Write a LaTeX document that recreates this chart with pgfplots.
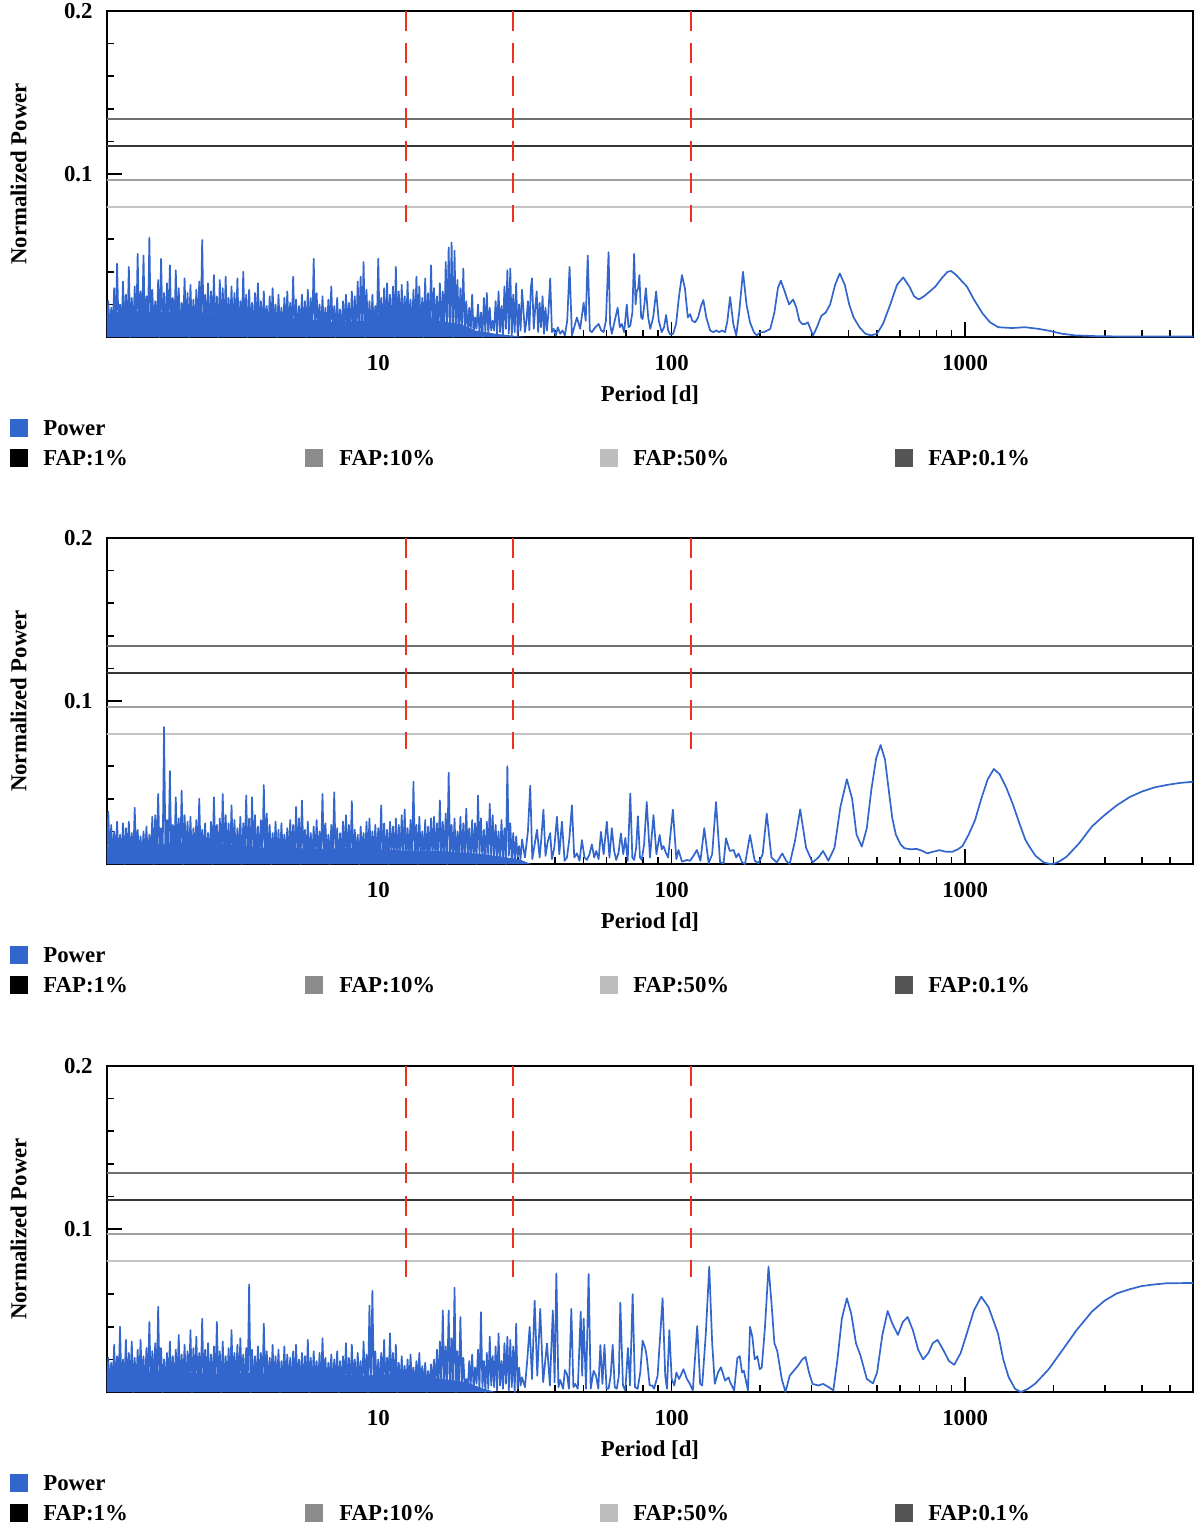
\documentclass[border=0pt]{standalone}
\usepackage{pgfplots}
\usepackage{pgfplotstable}
\pgfplotsset{compat=1.18}
\usepackage{fontspec}
\setmainfont{Liberation Serif}
\newcommand\fs{\fontsize{11.4bp}{13.7bp}\selectfont\bfseries}
\definecolor{pblue}{RGB}{51,102,204}
\definecolor{fapred}{RGB}{238,48,28}
\definecolor{lfapa}{RGB}{0,0,0}
\definecolor{lfapb}{RGB}{140,140,140}
\definecolor{lfapc}{RGB}{190,190,190}
\definecolor{lfapd}{RGB}{85,85,85}
\definecolor{fapA}{RGB}{55,55,55}
\definecolor{fapB}{RGB}{160,160,160}
\definecolor{fapC}{RGB}{196,196,196}
\definecolor{fapD}{RGB}{112,112,112}

% Panel 1: L = log10(period [d]), P = normalized power
\pgfplotstableread[row sep=\\]{
L P\\
0.075 0.004\\0.080 0.022\\0.085 0.002\\0.090 0.018\\
0.095 0.004\\0.100 0.030\\0.105 0.002\\0.110 0.045\\0.115 0.003\\0.120 0.020\\0.125 0.001\\0.130 0.034\\0.135 0.005\\0.140 0.026\\0.145 0.002\\0.150 0.043\\0.155 0.000\\0.160 0.024\\0.165 0.003\\0.170 0.031\\0.175 0.001\\0.180 0.051\\0.185 0.004\\0.190 0.028\\
0.195 0.004\\0.200 0.050\\0.205 0.002\\0.210 0.025\\0.215 0.003\\0.220 0.061\\0.225 0.001\\0.230 0.029\\0.235 0.005\\0.240 0.022\\0.245 0.002\\0.250 0.035\\0.255 0.000\\0.260 0.048\\0.265 0.003\\0.270 0.027\\0.275 0.001\\0.280 0.033\\0.285 0.004\\0.290 0.044\\
0.295 0.004\\0.300 0.024\\0.305 0.002\\0.310 0.041\\0.315 0.003\\0.320 0.030\\0.325 0.001\\0.330 0.021\\0.335 0.005\\0.340 0.036\\0.345 0.002\\0.350 0.027\\0.355 0.000\\0.360 0.032\\0.365 0.003\\0.370 0.023\\0.375 0.001\\0.380 0.029\\0.385 0.004\\0.390 0.034\\
0.395 0.004\\0.400 0.0595\\0.405 0.002\\0.410 0.026\\0.415 0.003\\0.420 0.033\\0.425 0.001\\0.430 0.028\\0.435 0.005\\0.440 0.038\\0.445 0.002\\0.450 0.025\\0.455 0.000\\0.460 0.035\\0.465 0.003\\0.470 0.030\\0.475 0.001\\0.480 0.037\\0.485 0.004\\0.490 0.024\\
0.495 0.004\\0.500 0.031\\0.505 0.002\\0.510 0.027\\0.515 0.003\\0.520 0.036\\0.525 0.001\\0.530 0.022\\0.535 0.005\\0.540 0.040\\0.545 0.002\\0.550 0.026\\0.555 0.000\\0.560 0.029\\0.565 0.003\\0.570 0.021\\0.575 0.001\\0.580 0.027\\0.585 0.004\\0.590 0.033\\
0.595 0.004\\0.600 0.022\\0.605 0.002\\0.610 0.028\\0.615 0.003\\0.620 0.019\\0.625 0.001\\0.630 0.025\\0.635 0.005\\0.640 0.030\\0.645 0.002\\0.650 0.020\\0.655 0.000\\0.660 0.026\\0.665 0.003\\0.670 0.018\\0.675 0.001\\0.680 0.024\\0.685 0.004\\0.690 0.028\\
0.695 0.004\\0.700 0.021\\0.705 0.002\\0.710 0.037\\0.715 0.003\\0.720 0.023\\0.725 0.001\\0.730 0.019\\0.735 0.005\\0.740 0.026\\0.745 0.002\\0.750 0.022\\0.755 0.000\\0.760 0.029\\0.765 0.003\\0.770 0.024\\0.775 0.001\\0.780 0.048\\0.785 0.004\\0.790 0.027\\
0.795 0.004\\0.800 0.020\\0.805 0.002\\0.810 0.025\\0.815 0.003\\0.820 0.018\\0.825 0.001\\0.830 0.023\\0.835 0.005\\0.840 0.031\\0.845 0.002\\0.850 0.019\\0.855 0.000\\0.860 0.024\\0.865 0.003\\0.870 0.017\\0.875 0.001\\0.880 0.022\\0.885 0.004\\0.890 0.026\\
0.895 0.004\\0.900 0.021\\0.905 0.002\\0.910 0.028\\0.915 0.003\\0.920 0.025\\0.925 0.001\\0.930 0.034\\0.935 0.005\\0.940 0.037\\0.945 0.002\\0.950 0.046\\0.955 0.000\\0.960 0.029\\0.965 0.003\\0.970 0.022\\0.975 0.001\\0.980 0.026\\0.985 0.004\\0.990 0.019\\
0.995 0.004\\1.000 0.048\\1.005 0.002\\1.010 0.024\\1.015 0.003\\1.020 0.030\\1.025 0.001\\1.030 0.033\\1.035 0.005\\1.040 0.026\\1.045 0.002\\1.050 0.031\\1.055 0.000\\1.060 0.043\\1.065 0.003\\1.070 0.028\\1.075 0.001\\1.080 0.032\\1.085 0.004\\1.090 0.025\\
1.095 0.004\\1.100 0.034\\1.105 0.002\\1.110 0.023\\1.115 0.003\\1.120 0.029\\1.125 0.001\\1.130 0.037\\1.135 0.005\\1.140 0.031\\1.145 0.002\\1.150 0.024\\1.155 0.000\\1.160 0.036\\1.165 0.003\\1.170 0.027\\1.175 0.001\\1.180 0.044\\1.185 0.004\\1.190 0.030\\
1.195 0.004\\1.200 0.025\\1.205 0.002\\1.210 0.033\\1.215 0.003\\1.220 0.028\\1.225 0.001\\1.230 0.046\\1.235 0.005\\1.240 0.055\\1.245 0.002\\1.250 0.058\\1.255 0.000\\1.260 0.053\\1.265 0.003\\1.270 0.035\\1.275 0.001\\1.280 0.030\\1.285 0.004\\1.290 0.042\\
1.295 0.004\\1.300 0.022\\1.305 0.002\\1.310 0.018\\1.315 0.003\\1.320 0.026\\1.325 0.001\\1.330 0.012\\1.335 0.005\\1.340 0.020\\1.345 0.002\\1.350 0.015\\1.355 0.000\\1.360 0.024\\1.365 0.003\\1.370 0.027\\1.375 0.001\\1.380 0.018\\1.385 0.004\\1.390 0.010\\
1.395 0.004\\1.400 0.022\\1.405 0.002\\1.410 0.028\\1.415 0.003\\1.420 0.019\\1.425 0.001\\1.430 0.031\\1.435 0.005\\1.440 0.041\\1.445 0.002\\1.450 0.042\\1.455 0.000\\1.460 0.026\\1.465 0.003\\1.470 0.033\\1.475 0.001\\1.480 0.020\\1.485 0.004\\1.490 0.029\\
1.500 0.003\\1.505 0.010\\1.510 0.022\\1.515 0.004\\1.520 0.030\\1.524 0.036\\1.530 0.005\\1.535 0.018\\1.540 0.028\\1.545 0.003\\1.550 0.021\\1.555 0.006\\1.560 0.025\\1.565 0.002\\1.570 0.018\\1.575 0.004\\1.580 0.015\\1.586 0.036\\1.592 0.003\\1.598 0.005\\
1.605 0.001\\1.612 0.006\\1.620 0.002\\1.628 0.004\\1.636 0.001\\1.644 0.010\\1.652 0.043\\1.660 0.001\\1.668 0.006\\1.677 0.012\\1.688 0.005\\1.700 0.021\\1.707 0.010\\1.714 0.050\\1.721 0.004\\1.728 0.003\\1.740 0.006\\1.751 0.008\\1.760 0.004\\1.768 0.003\\
1.776 0.010\\1.785 0.052\\1.790 0.008\\1.796 0.002\\1.806 0.010\\1.816 0.018\\1.823 0.006\\1.830 0.008\\1.838 0.003\\1.847 0.020\\1.853 0.006\\1.859 0.007\\1.866 0.015\\1.872 0.051\\1.877 0.020\\1.881 0.028\\1.886 0.030\\1.890 0.038\\1.896 0.012\\1.901 0.011\\
1.907 0.020\\1.912 0.030\\1.920 0.012\\1.927 0.005\\1.937 0.012\\1.947 0.028\\1.956 0.010\\1.966 0.003\\1.974 0.006\\1.981 0.0135\\1.988 0.004\\1.995 0.0015\\2.005 0.002\\2.015 0.008\\2.025 0.025\\2.035 0.038\\2.045 0.030\\2.055 0.012\\2.063 0.014\\2.070 0.010\\
2.080 0.009\\2.090 0.012\\2.100 0.019\\2.108 0.0227\\2.118 0.012\\2.131 0.004\\2.142 0.003\\2.152 0.004\\2.162 0.003\\2.172 0.004\\2.182 0.003\\2.190 0.010\\2.199 0.0245\\2.210 0.008\\2.220 0.001\\2.230 0.015\\2.243 0.040\\2.255 0.020\\2.267 0.009\\2.280 0.003\\
2.290 0.001\\2.302 0.003\\2.315 0.003\\2.326 0.004\\2.336 0.005\\2.350 0.015\\2.362 0.030\\2.372 0.0346\\2.385 0.028\\2.400 0.020\\2.414 0.023\\2.425 0.018\\2.435 0.010\\2.445 0.008\\2.455 0.008\\2.464 0.009\\2.475 0.004\\2.482 0.001\\2.495 0.006\\2.510 0.013\\
2.525 0.015\\2.540 0.020\\2.557 0.032\\2.573 0.039\\2.590 0.032\\2.605 0.020\\2.620 0.012\\2.640 0.006\\2.660 0.002\\2.679 0.001\\2.700 0.002\\2.720 0.008\\2.745 0.020\\2.768 0.032\\2.789 0.0366\\2.810 0.031\\2.826 0.025\\2.842 0.023\\2.860 0.025\\2.880 0.028\\
2.899 0.031\\2.920 0.036\\2.940 0.040\\2.952 0.0405\\2.970 0.038\\2.990 0.034\\3.006 0.031\\3.030 0.023\\3.060 0.0143\\3.085 0.009\\3.113 0.006\\3.160 0.0055\\3.204 0.006\\3.250 0.005\\3.290 0.0037\\3.330 0.002\\3.375 0.001\\3.450 0.0005\\3.550 0.0003\\3.780 0.0003\\
}\tabA

% Panel 2
\pgfplotstableread[row sep=\\]{
L P\\
0.075 0.003\\0.080 0.032\\0.085 0.004\\0.090 0.024\\
0.095 0.002\\0.100 0.020\\0.105 0.004\\0.110 0.026\\0.115 0.001\\0.120 0.018\\0.125 0.003\\0.130 0.025\\0.135 0.000\\0.140 0.022\\0.145 0.005\\0.150 0.026\\0.155 0.002\\0.160 0.019\\0.165 0.001\\0.170 0.0345\\0.175 0.004\\0.180 0.021\\0.185 0.003\\0.190 0.017\\
0.195 0.002\\0.200 0.020\\0.205 0.004\\0.210 0.023\\0.215 0.001\\0.220 0.018\\0.225 0.003\\0.230 0.029\\0.235 0.000\\0.240 0.030\\0.245 0.005\\0.250 0.043\\0.255 0.002\\0.260 0.022\\0.265 0.001\\0.270 0.084\\0.275 0.004\\0.280 0.027\\0.285 0.003\\0.290 0.057\\
0.295 0.002\\0.300 0.024\\0.305 0.004\\0.310 0.041\\0.315 0.001\\0.320 0.028\\0.325 0.003\\0.330 0.045\\0.335 0.000\\0.340 0.030\\0.345 0.005\\0.350 0.026\\0.355 0.002\\0.360 0.029\\0.365 0.001\\0.370 0.022\\0.375 0.004\\0.380 0.027\\0.385 0.003\\0.390 0.040\\
0.395 0.002\\0.400 0.021\\0.405 0.004\\0.410 0.025\\0.415 0.001\\0.420 0.019\\0.425 0.003\\0.430 0.026\\0.435 0.000\\0.440 0.041\\0.445 0.005\\0.450 0.024\\0.455 0.002\\0.460 0.028\\0.465 0.001\\0.470 0.043\\0.475 0.004\\0.480 0.030\\0.485 0.003\\0.490 0.025\\
0.495 0.002\\0.500 0.036\\0.505 0.004\\0.510 0.027\\0.515 0.001\\0.520 0.022\\0.525 0.003\\0.530 0.029\\0.535 0.000\\0.540 0.025\\0.545 0.005\\0.550 0.042\\0.555 0.002\\0.560 0.028\\0.565 0.001\\0.570 0.041\\0.575 0.004\\0.580 0.030\\0.585 0.003\\0.590 0.023\\
0.595 0.002\\0.600 0.027\\0.605 0.004\\0.610 0.0485\\0.615 0.001\\0.620 0.031\\0.625 0.003\\0.630 0.024\\0.635 0.000\\0.640 0.019\\0.645 0.005\\0.650 0.026\\0.655 0.002\\0.660 0.021\\0.665 0.001\\0.670 0.025\\0.675 0.004\\0.680 0.018\\0.685 0.003\\0.690 0.022\\
0.695 0.002\\0.700 0.027\\0.705 0.004\\0.710 0.024\\0.715 0.001\\0.720 0.035\\0.725 0.003\\0.730 0.028\\0.735 0.000\\0.740 0.039\\0.745 0.005\\0.750 0.021\\0.755 0.002\\0.760 0.026\\0.765 0.001\\0.770 0.019\\0.775 0.004\\0.780 0.023\\0.785 0.003\\0.790 0.027\\
0.795 0.002\\0.800 0.020\\0.805 0.004\\0.810 0.043\\0.815 0.001\\0.820 0.025\\0.825 0.003\\0.830 0.018\\0.835 0.000\\0.840 0.024\\0.845 0.005\\0.850 0.044\\0.855 0.002\\0.860 0.022\\0.865 0.001\\0.870 0.019\\0.875 0.004\\0.880 0.026\\0.885 0.003\\0.890 0.030\\
0.895 0.002\\0.900 0.024\\0.905 0.004\\0.910 0.0386\\0.915 0.001\\0.920 0.021\\0.925 0.003\\0.930 0.018\\0.935 0.000\\0.940 0.023\\0.945 0.005\\0.950 0.019\\0.955 0.002\\0.960 0.026\\0.965 0.001\\0.970 0.028\\0.975 0.004\\0.980 0.020\\0.985 0.003\\0.990 0.024\\
0.995 0.002\\1.000 0.022\\1.005 0.004\\1.010 0.036\\1.015 0.001\\1.020 0.025\\1.025 0.003\\1.030 0.021\\1.035 0.000\\1.040 0.026\\1.045 0.005\\1.050 0.023\\1.055 0.002\\1.060 0.028\\1.065 0.001\\1.070 0.024\\1.075 0.004\\1.080 0.030\\1.085 0.003\\1.090 0.0335\\
1.095 0.002\\1.100 0.022\\1.105 0.004\\1.110 0.027\\1.115 0.001\\1.120 0.0505\\1.125 0.003\\1.130 0.024\\1.135 0.000\\1.140 0.029\\1.145 0.005\\1.150 0.020\\1.155 0.002\\1.160 0.027\\1.165 0.001\\1.170 0.023\\1.175 0.004\\1.180 0.028\\1.185 0.003\\1.190 0.029\\
1.195 0.002\\1.200 0.025\\1.205 0.004\\1.210 0.039\\1.215 0.001\\1.220 0.026\\1.225 0.003\\1.230 0.031\\1.235 0.000\\1.240 0.056\\1.245 0.005\\1.250 0.024\\1.255 0.002\\1.260 0.028\\1.265 0.001\\1.270 0.020\\1.275 0.004\\1.280 0.029\\1.285 0.003\\1.290 0.025\\
1.295 0.002\\1.300 0.034\\1.305 0.004\\1.310 0.022\\1.315 0.001\\1.320 0.027\\1.325 0.003\\1.330 0.025\\1.335 0.000\\1.340 0.042\\1.345 0.005\\1.350 0.028\\1.355 0.002\\1.360 0.021\\1.365 0.001\\1.370 0.026\\1.375 0.004\\1.380 0.037\\1.385 0.003\\1.390 0.030\\
1.395 0.002\\1.400 0.024\\1.405 0.004\\1.410 0.020\\1.415 0.001\\1.420 0.027\\1.425 0.003\\1.430 0.022\\1.435 0.000\\1.440 0.060\\1.445 0.005\\1.450 0.025\\1.455 0.002\\1.460 0.019\\1.465 0.001\\1.470 0.017\\1.475 0.004\\1.480 0.011\\1.485 0.003\\1.490 0.015\\
1.500 0.004\\1.510 0.020\\1.518 0.048\\1.525 0.003\\1.533 0.012\\1.541 0.021\\1.550 0.004\\1.556 0.016\\1.563 0.0333\\1.570 0.005\\1.578 0.014\\1.586 0.019\\1.592 0.003\\1.600 0.010\\1.609 0.029\\1.617 0.006\\1.626 0.026\\1.635 0.002\\1.643 0.004\\1.651 0.015\\
1.660 0.036\\1.668 0.004\\1.677 0.0066\\1.686 0.002\\1.694 0.0147\\1.703 0.004\\1.711 0.0025\\1.720 0.006\\1.728 0.012\\1.736 0.004\\1.743 0.008\\1.751 0.003\\1.759 0.0197\\1.768 0.006\\1.779 0.026\\1.788 0.004\\1.796 0.022\\1.804 0.008\\1.811 0.0025\\1.819 0.007\\
1.827 0.0188\\1.835 0.006\\1.842 0.016\\1.850 0.002\\1.859 0.0433\\1.866 0.004\\1.872 0.0025\\1.879 0.010\\1.885 0.0293\\1.892 0.004\\1.898 0.0025\\1.906 0.012\\1.915 0.038\\1.926 0.004\\1.938 0.030\\1.948 0.006\\1.959 0.0178\\1.966 0.009\\1.972 0.011\\1.980 0.007\\
1.988 0.004\\2.004 0.0333\\2.016 0.003\\2.023 0.0086\\2.035 0.0015\\2.045 0.002\\2.052 0.0025\\2.063 0.002\\2.074 0.005\\2.086 0.0086\\2.098 0.002\\2.111 0.022\\2.126 0.0005\\2.138 0.006\\2.151 0.038\\2.165 0.001\\2.177 0.0005\\2.185 0.0158\\2.198 0.008\\2.211 0.0086\\
2.220 0.004\\2.228 0.0065\\2.240 0.001\\2.250 0.000\\2.267 0.0178\\2.283 0.002\\2.296 0.0005\\2.310 0.006\\2.324 0.031\\2.340 0.004\\2.358 0.001\\2.377 0.0065\\2.390 0.002\\2.402 0.000\\2.420 0.014\\2.438 0.0335\\2.458 0.010\\2.480 0.001\\2.500 0.004\\2.516 0.008\\
2.534 0.002\\2.555 0.010\\2.575 0.035\\2.597 0.052\\2.615 0.040\\2.630 0.018\\2.648 0.0107\\2.665 0.022\\2.680 0.045\\2.697 0.065\\2.712 0.073\\2.727 0.064\\2.740 0.045\\2.752 0.028\\2.764 0.018\\2.780 0.012\\2.793 0.0097\\2.815 0.009\\2.835 0.0093\\2.855 0.008\\
2.871 0.0065\\2.890 0.0075\\2.913 0.0085\\2.935 0.0075\\2.956 0.0075\\2.975 0.009\\2.991 0.011\\3.012 0.018\\3.034 0.027\\3.055 0.040\\3.077 0.052\\3.098 0.0583\\3.118 0.055\\3.140 0.047\\3.162 0.037\\3.185 0.025\\3.205 0.015\\3.219 0.0107\\3.240 0.005\\3.268 0.001\\
3.290 0.000\\3.304 0.0002\\3.325 0.002\\3.346 0.0045\\3.390 0.013\\3.432 0.023\\3.475 0.030\\3.517 0.036\\3.560 0.041\\3.602 0.0444\\3.645 0.047\\3.687 0.0485\\3.730 0.0497\\3.780 0.0505\\
}\tabB

% Panel 3
\pgfplotstableread[row sep=\\]{
L P\\
0.075 0.002\\0.080 0.021\\0.085 0.004\\0.090 0.018\\
0.095 0.003\\0.100 0.029\\0.105 0.001\\0.110 0.022\\0.115 0.004\\0.120 0.040\\0.125 0.002\\0.130 0.020\\0.135 0.005\\0.140 0.032\\0.145 0.001\\0.150 0.024\\0.155 0.003\\0.160 0.031\\0.165 0.000\\0.170 0.021\\0.175 0.002\\0.180 0.026\\0.185 0.004\\0.190 0.032\\
0.195 0.003\\0.200 0.022\\0.205 0.001\\0.210 0.027\\0.215 0.004\\0.220 0.043\\0.225 0.002\\0.230 0.025\\0.235 0.005\\0.240 0.030\\0.245 0.001\\0.250 0.0523\\0.255 0.003\\0.260 0.027\\0.265 0.000\\0.270 0.020\\0.275 0.002\\0.280 0.024\\0.285 0.004\\0.290 0.031\\
0.295 0.003\\0.300 0.022\\0.305 0.001\\0.310 0.026\\0.315 0.004\\0.320 0.035\\0.325 0.002\\0.330 0.023\\0.335 0.005\\0.340 0.029\\0.345 0.001\\0.350 0.025\\0.355 0.003\\0.360 0.038\\0.365 0.000\\0.370 0.027\\0.375 0.002\\0.380 0.034\\0.385 0.004\\0.390 0.024\\
0.395 0.003\\0.400 0.045\\0.405 0.001\\0.410 0.026\\0.415 0.004\\0.420 0.030\\0.425 0.002\\0.430 0.023\\0.435 0.005\\0.440 0.028\\0.445 0.001\\0.450 0.043\\0.455 0.003\\0.460 0.025\\0.465 0.000\\0.470 0.031\\0.475 0.002\\0.480 0.022\\0.485 0.004\\0.490 0.027\\
0.495 0.003\\0.500 0.038\\0.505 0.001\\0.510 0.024\\0.515 0.004\\0.520 0.029\\0.525 0.002\\0.530 0.033\\0.535 0.005\\0.540 0.023\\0.545 0.001\\0.550 0.027\\0.555 0.003\\0.560 0.066\\0.565 0.000\\0.570 0.026\\0.575 0.002\\0.580 0.022\\0.585 0.004\\0.590 0.028\\
0.595 0.003\\0.600 0.024\\0.605 0.001\\0.610 0.042\\0.615 0.004\\0.620 0.025\\0.625 0.002\\0.630 0.021\\0.635 0.005\\0.640 0.029\\0.645 0.001\\0.650 0.022\\0.655 0.003\\0.660 0.026\\0.665 0.000\\0.670 0.019\\0.675 0.002\\0.680 0.028\\0.685 0.004\\0.690 0.023\\
0.695 0.003\\0.700 0.021\\0.705 0.001\\0.710 0.025\\0.715 0.004\\0.720 0.029\\0.725 0.002\\0.730 0.020\\0.735 0.005\\0.740 0.024\\0.745 0.001\\0.750 0.022\\0.755 0.003\\0.760 0.032\\0.765 0.000\\0.770 0.021\\0.775 0.002\\0.780 0.025\\0.785 0.004\\0.790 0.019\\
0.795 0.003\\0.800 0.024\\0.805 0.001\\0.810 0.033\\0.815 0.004\\0.820 0.021\\0.825 0.002\\0.830 0.018\\0.835 0.005\\0.840 0.023\\0.845 0.001\\0.850 0.020\\0.855 0.003\\0.860 0.025\\0.865 0.000\\0.870 0.019\\0.875 0.002\\0.880 0.022\\0.885 0.004\\0.890 0.030\\
0.895 0.003\\0.900 0.021\\0.905 0.001\\0.910 0.029\\0.915 0.004\\0.920 0.020\\0.925 0.002\\0.930 0.024\\0.935 0.005\\0.940 0.019\\0.945 0.001\\0.950 0.031\\0.955 0.003\\0.960 0.023\\0.965 0.000\\0.970 0.053\\0.975 0.002\\0.980 0.062\\0.985 0.004\\0.990 0.025\\
0.995 0.003\\1.000 0.020\\1.005 0.001\\1.010 0.024\\1.015 0.004\\1.020 0.032\\1.025 0.002\\1.030 0.021\\1.035 0.005\\1.040 0.036\\1.045 0.001\\1.050 0.024\\1.055 0.003\\1.060 0.029\\1.065 0.000\\1.070 0.018\\1.075 0.002\\1.080 0.022\\1.085 0.004\\1.090 0.016\\
1.095 0.003\\1.100 0.020\\1.105 0.001\\1.110 0.023\\1.115 0.004\\1.120 0.015\\1.125 0.002\\1.130 0.019\\1.135 0.005\\1.140 0.024\\1.145 0.001\\1.150 0.016\\1.155 0.003\\1.160 0.018\\1.165 0.000\\1.170 0.013\\1.175 0.002\\1.180 0.017\\1.185 0.004\\1.190 0.020\\
1.195 0.003\\1.200 0.026\\1.205 0.001\\1.210 0.031\\1.215 0.004\\1.220 0.050\\1.225 0.002\\1.230 0.028\\1.235 0.005\\1.240 0.050\\1.245 0.001\\1.250 0.033\\1.255 0.003\\1.260 0.064\\1.265 0.000\\1.270 0.025\\1.275 0.002\\1.280 0.046\\1.285 0.004\\1.290 0.021\\
1.295 0.003\\1.300 0.008\\1.305 0.001\\1.310 0.019\\1.315 0.004\\1.320 0.023\\1.325 0.002\\1.330 0.015\\1.335 0.005\\1.340 0.026\\1.345 0.001\\1.350 0.049\\1.355 0.003\\1.360 0.019\\1.365 0.000\\1.370 0.024\\1.375 0.002\\1.380 0.034\\1.385 0.004\\1.390 0.022\\
1.395 0.003\\1.400 0.028\\1.405 0.001\\1.410 0.036\\1.415 0.004\\1.420 0.019\\1.425 0.002\\1.430 0.030\\1.435 0.005\\1.440 0.034\\1.445 0.001\\1.450 0.032\\1.455 0.003\\1.460 0.028\\1.465 0.000\\1.470 0.042\\1.475 0.002\\1.480 0.015\\1.485 0.004\\1.490 0.009\\
1.500 0.003\\1.508 0.020\\1.516 0.040\\1.524 0.008\\1.533 0.056\\1.542 0.010\\1.552 0.051\\1.562 0.006\\1.575 0.0298\\1.585 0.004\\1.595 0.050\\1.601 0.006\\1.607 0.0728\\1.614 0.003\\1.620 0.0074\\1.630 0.002\\1.636 0.0135\\1.643 0.011\\1.650 0.002\\1.658 0.051\\
1.665 0.003\\1.671 0.005\\1.680 0.002\\1.690 0.0493\\1.695 0.010\\1.700 0.045\\1.708 0.002\\1.717 0.0724\\1.724 0.002\\1.734 0.013\\1.742 0.010\\1.750 0.002\\1.757 0.0288\\1.764 0.005\\1.771 0.029\\1.778 0.002\\1.785 0.002\\1.792 0.010\\1.799 0.029\\1.806 0.003\\
1.813 0.002\\1.820 0.010\\1.825 0.0548\\1.834 0.004\\1.842 0.001\\1.851 0.027\\1.858 0.004\\1.867 0.060\\1.875 0.003\\1.884 0.002\\1.893 0.012\\1.901 0.0315\\1.910 0.0269\\1.915 0.0217\\1.925 0.004\\1.934 0.004\\1.940 0.002\\1.952 0.010\\1.969 0.0575\\1.978 0.010\\
1.984 0.002\\1.992 0.038\\2.000 0.008\\2.009 0.004\\2.016 0.012\\2.025 0.008\\2.033 0.011\\2.040 0.014\\2.052 0.008\\2.062 0.005\\2.072 0.001\\2.087 0.0405\\2.097 0.005\\2.104 0.004\\2.116 0.035\\2.128 0.0769\\2.138 0.030\\2.147 0.005\\2.158 0.012\\2.168 0.0152\\
2.182 0.007\\2.194 0.009\\2.199 0.006\\2.213 0.001\\2.224 0.021\\2.232 0.022\\2.240 0.012\\2.246 0.013\\2.260 0.001\\2.267 0.040\\2.275 0.034\\2.283 0.020\\2.292 0.022\\2.300 0.014\\2.307 0.015\\2.318 0.040\\2.330 0.0769\\2.340 0.055\\2.350 0.030\\2.360 0.025\\
2.375 0.008\\2.388 0.000\\2.402 0.010\\2.416 0.013\\2.430 0.016\\2.445 0.020\\2.456 0.0215\\2.468 0.012\\2.480 0.005\\2.500 0.004\\2.516 0.005\\2.535 0.003\\2.551 0.001\\2.565 0.020\\2.580 0.045\\2.597 0.0575\\2.612 0.048\\2.628 0.030\\2.644 0.022\\2.665 0.008\\
2.686 0.0053\\2.700 0.012\\2.718 0.035\\2.736 0.0497\\2.752 0.042\\2.771 0.035\\2.788 0.043\\2.804 0.046\\2.822 0.038\\2.840 0.026\\2.857 0.020\\2.875 0.024\\2.890 0.030\\2.906 0.032\\2.925 0.026\\2.945 0.019\\2.963 0.0167\\2.985 0.024\\3.006 0.036\\3.030 0.050\\
3.055 0.0585\\3.080 0.052\\3.112 0.036\\3.130 0.020\\3.148 0.0093\\3.170 0.002\\3.190 0.000\\3.215 0.002\\3.240 0.0053\\3.285 0.014\\3.332 0.0258\\3.380 0.038\\3.432 0.0493\\3.475 0.056\\3.517 0.0605\\3.560 0.063\\3.602 0.065\\3.645 0.066\\3.687 0.0667\\3.730 0.0668\\
3.780 0.0669\\
}\tabC

% Solid base of the dense short-period forest (top of the filled band)
\pgfplotstableread[row sep=\\]{
L P\\
0.060 0.014\\0.150 0.016\\0.250 0.015\\0.350 0.016\\0.450 0.014\\0.550 0.013\\0.650 0.012\\0.750 0.011\\0.850 0.009\\0.950 0.010\\1.000 0.014\\1.080 0.016\\1.150 0.015\\1.200 0.010\\1.280 0.008\\1.330 0.004\\1.400 0.002\\1.500 0.000\\
}\baseA
\pgfplotstableread[row sep=\\]{
L P\\
0.060 0.011\\0.150 0.010\\0.250 0.012\\0.300 0.013\\0.400 0.013\\0.500 0.012\\0.600 0.010\\0.700 0.010\\0.800 0.009\\0.900 0.010\\1.000 0.009\\1.100 0.008\\1.200 0.008\\1.300 0.007\\1.400 0.005\\1.480 0.003\\1.520 0.000\\
}\baseB
\pgfplotstableread[row sep=\\]{
L P\\
0.060 0.013\\0.150 0.012\\0.250 0.013\\0.350 0.012\\0.450 0.011\\0.550 0.012\\0.650 0.011\\0.750 0.012\\0.850 0.011\\0.950 0.010\\1.050 0.011\\1.150 0.009\\1.220 0.008\\1.300 0.006\\1.360 0.002\\1.400 0.000\\
}\baseC

\pgfplotsset{
  width=543bp, height=163bp, scale only axis,
  tick pos=left, tick align=inside,
  major tick length=7.5bp, minor tick length=3.7bp,
  every tick/.style={black, line width=0.8bp},
  axis line style={line width=1.2bp},
  xticklabel style={font=\fs, yshift=-5.5bp},
  yticklabel style={font=\fs, xshift=-3.7bp},
  every axis x label/.style={at={(axis description cs:0.5,-0.178)}, anchor=center, font=\fs},
  every axis y label/.style={at={(axis description cs:-0.0814,0.5)}, rotate=90, anchor=center, font=\fs},
}
\tikzset{
  fapd/.style={color=fapD, line width=0.9bp},
  fapa/.style={color=fapA, line width=0.9bp},
  fapb/.style={color=fapB, line width=0.9bp},
  fapc/.style={color=fapC, line width=0.9bp},
  rdash/.style={color=fapred, line width=1bp, dash pattern=on 10bp off 6.2bp},
  pw/.style={color=pblue, line width=0.85bp, line join=round},
  pbase/.style={fill=pblue, draw=none},
}

\newcommand\leg[1]{%
  \fill[pblue] (5bp,-209.5bp-#1) rectangle ++(9bp,-9bp);
  \node[anchor=west, inner sep=0pt, font=\fs] at (21.5bp,-214bp-#1) {Power};
  \fill[lfapa] (5bp,-224.5bp-#1) rectangle ++(9bp,-9bp);
  \node[anchor=west, inner sep=0pt, font=\fs] at (21.5bp,-229bp-#1) {FAP:1\%};
  \fill[lfapb] (152.5bp,-224.5bp-#1) rectangle ++(9bp,-9bp);
  \node[anchor=west, inner sep=0pt, font=\fs] at (169.5bp,-229bp-#1) {FAP:10\%};
  \fill[lfapc] (300bp,-224.5bp-#1) rectangle ++(9bp,-9bp);
  \node[anchor=west, inner sep=0pt, font=\fs] at (316.5bp,-229bp-#1) {FAP:50\%};
  \fill[lfapd] (447.5bp,-224.5bp-#1) rectangle ++(9bp,-9bp);
  \node[anchor=west, inner sep=0pt, font=\fs] at (464bp,-229bp-#1) {FAP:0.1\%};
}

\begin{document}
\begin{tikzpicture}
\path[use as bounding box] (0,0) rectangle (600bp,-763bp);

\begin{axis}[at={(53.5bp,-168.5bp)}, anchor=south west,
  xmode=log, xmin=1.19, xmax=5980, ymin=0, ymax=0.2,
  xtick={10,100,1000}, xticklabels={10,100,1000},
  minor xtick={2,3,4,5,6,7,8,9,20,30,40,50,60,70,80,90,200,300,400,500,600,700,800,900,2000,3000,4000,5000},
  ytick={0.1,0.2}, yticklabels={0.1,0.2},
  minor ytick={0.02,0.04,0.06,0.08,0.12,0.14,0.16,0.18},
  xlabel={Period [d]}, ylabel={Normalized Power}]
\addplot[fapd] coordinates {(1,0.1337) (10000,0.1337)};
\addplot[fapa] coordinates {(1,0.1172) (10000,0.1172)};
\addplot[fapb] coordinates {(1,0.0963) (10000,0.0963)};
\addplot[fapc] coordinates {(1,0.0798) (10000,0.0798)};
\addplot[rdash] coordinates {(12.46,0.2) (12.46,0.0706)};
\addplot[rdash] coordinates {(28.8,0.2) (28.8,0.0706)};
\addplot[rdash] coordinates {(116,0.2) (116,0.0706)};
\addplot[pbase] table[x expr={10^(\thisrow{L})}, y=P] {\baseA} \closedcycle;
\addplot[pw] table[x expr={10^(\thisrow{L})}, y=P] {\tabA};
\end{axis}

\begin{axis}[at={(53.5bp,-432bp)}, anchor=south west,
  xmode=log, xmin=1.19, xmax=5980, ymin=0, ymax=0.2,
  xtick={10,100,1000}, xticklabels={10,100,1000},
  minor xtick={2,3,4,5,6,7,8,9,20,30,40,50,60,70,80,90,200,300,400,500,600,700,800,900,2000,3000,4000,5000},
  ytick={0.1,0.2}, yticklabels={0.1,0.2},
  minor ytick={0.02,0.04,0.06,0.08,0.12,0.14,0.16,0.18},
  xlabel={Period [d]}, ylabel={Normalized Power}]
\addplot[fapd] coordinates {(1,0.1337) (10000,0.1337)};
\addplot[fapa] coordinates {(1,0.1172) (10000,0.1172)};
\addplot[fapb] coordinates {(1,0.0963) (10000,0.0963)};
\addplot[fapc] coordinates {(1,0.0798) (10000,0.0798)};
\addplot[rdash] coordinates {(12.46,0.2) (12.46,0.0706)};
\addplot[rdash] coordinates {(28.8,0.2) (28.8,0.0706)};
\addplot[rdash] coordinates {(116,0.2) (116,0.0706)};
\addplot[pbase] table[x expr={10^(\thisrow{L})}, y=P] {\baseB} \closedcycle;
\addplot[pw] table[x expr={10^(\thisrow{L})}, y=P] {\tabB};
\end{axis}

\begin{axis}[at={(53.5bp,-696bp)}, anchor=south west,
  xmode=log, xmin=1.19, xmax=5980, ymin=0, ymax=0.2,
  xtick={10,100,1000}, xticklabels={10,100,1000},
  minor xtick={2,3,4,5,6,7,8,9,20,30,40,50,60,70,80,90,200,300,400,500,600,700,800,900,2000,3000,4000,5000},
  ytick={0.1,0.2}, yticklabels={0.1,0.2},
  minor ytick={0.02,0.04,0.06,0.08,0.12,0.14,0.16,0.18},
  xlabel={Period [d]}, ylabel={Normalized Power}]
\addplot[fapd] coordinates {(1,0.1344) (10000,0.1344)};
\addplot[fapa] coordinates {(1,0.1178) (10000,0.1178)};
\addplot[fapb] coordinates {(1,0.0969) (10000,0.0969)};
\addplot[fapc] coordinates {(1,0.0804) (10000,0.0804)};
\addplot[rdash] coordinates {(12.46,0.2) (12.46,0.0706)};
\addplot[rdash] coordinates {(28.8,0.2) (28.8,0.0706)};
\addplot[rdash] coordinates {(116,0.2) (116,0.0706)};
\addplot[pbase] table[x expr={10^(\thisrow{L})}, y=P] {\baseC} \closedcycle;
\addplot[pw] table[x expr={10^(\thisrow{L})}, y=P] {\tabC};
\end{axis}

\leg{0bp}
\leg{263.5bp}
\leg{527.5bp}
\end{tikzpicture}
\end{document}
